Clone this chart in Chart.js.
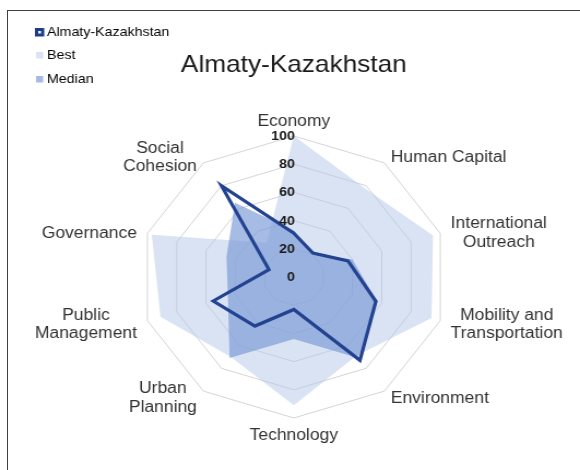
<!DOCTYPE html>
<html>
<head>
<meta charset="utf-8">
<script src="https://cdn.jsdelivr.net/npm/chart.js@4"></script>
<style>
  body { margin: 0; background: #fff; }
  #wrap { position: relative; width: 580px; height: 470px; overflow: hidden; }
  #frame { position: absolute; left: 7px; top: 10px; width: 620px; height: 520px; border-top: 1px solid #404040; border-left: 1px solid #404040; }
  /* the reference picture is a bit wider than tall, so the canvas is stretched */
  #myChart { position: absolute; left: 0; top: 0; transform: scaleX(1.0923); transform-origin: 0 0; }
</style>
</head>
<body>
<div id="wrap">
  <div id="frame"></div>
  <canvas id="myChart" width="531" height="470"></canvas>
</div>
<script>
const categories = [
  ['Economy'],
  ['Human Capital'],
  ['International', 'Outreach'],
  ['Mobility and', 'Transportation'],
  ['Environment'],
  ['Technology'],
  ['Urban', 'Planning'],
  ['Public', 'Management'],
  ['Governance'],
  ['Social', 'Cohesion']
];
const almatyValues = [31, 21, 37, 56, 73, 23, 43, 55, 17, 80];
const bestValues   = [100, 78, 95, 94, 69, 91, 70, 91, 97, 30];
const medianValues = [33, 20, 40, 57, 71, 44, 71, 45, 46, 65];
const tickValues = [0, 20, 40, 60, 80, 100];

const chartTitle = 'Almaty-Kazakhstan';
const fontFamily = '"Liberation Sans", Arial, sans-serif';

// legend marker colours (as they look on white)
const legendSwatches = ['#1f3c88', '#dae3f3', '#a5bae4'];

const textPlugin = {
  id: 'radarText',
  afterDraw(chart) {
    const ctx = chart.ctx;
    const r = chart.scales.r;
    ctx.save();

    // tick labels, right aligned on the centre line
    ctx.font = 'bold 13px ' + fontFamily;
    ctx.fillStyle = '#1a1a1a';
    ctx.textAlign = 'right';
    ctx.textBaseline = 'middle';
    tickValues.forEach(v => {
      ctx.fillText(String(v), r.xCenter + 1, r.yCenter + 0.5 - r.getDistanceFromCenterForValue(v));
    });

    // category labels round the outside
    ctx.font = '16px ' + fontFamily;
    ctx.fillStyle = '#333';
    const lineH = 18.5;
    categories.forEach((lines, i) => {
      const p = r.getPointPosition(i, r.drawingArea + 10);
      const angle = i * 360 / categories.length;
      const w = Math.max(...lines.map(l => ctx.measureText(l).width));
      const h = lines.length * lineH;
      // lower labels sit a little closer to the plot
      let shift = 3;
      if (angle === 108 || angle === 252) shift = 1;
      if (angle === 144 || angle === 216) shift = -1;
      let cx, top;
      if (angle === 0) {
        cx = p.x; top = p.y - h + 5;
      } else if (angle === 180) {
        cx = p.x; top = p.y - 2;
      } else if (angle < 180) {
        cx = p.x + w / 2; top = p.y - h / 2 + shift;
      } else {
        cx = p.x - w / 2; top = p.y - h / 2 + shift;
      }
      ctx.textAlign = 'center';
      ctx.textBaseline = 'middle';
      lines.forEach((l, k) => ctx.fillText(l, cx, top + lineH * k + lineH / 2));
    });

    // title
    ctx.font = '24px ' + fontFamily;
    ctx.fillStyle = '#1a1a1a';
    ctx.textAlign = 'center';
    ctx.textBaseline = 'alphabetic';
    ctx.fillText(chartTitle, 269, 72);

    // legend, top left
    ctx.font = '13px ' + fontFamily;
    ctx.textAlign = 'left';
    ctx.textBaseline = 'middle';
    const rows = [32.5, 55.5, 79.5];
    const names = ['Almaty-Kazakhstan', 'Best', 'Median'];
    names.forEach((name, k) => {
      const y = rows[k];
      ctx.fillStyle = legendSwatches[k];
      if (k === 0) {
        ctx.fillRect(32, y - 4.5, 8.5, 8.5);
        ctx.fillStyle = '#fff';
        ctx.fillRect(35, y - 1.5, 2.5, 2.5);
      } else {
        ctx.fillRect(33, y - 3.5, 6.5, 6.5);
      }
      ctx.fillStyle = '#000';
      ctx.fillText(name, 43, y);
    });
    ctx.restore();
  }
};

const ctx = document.getElementById('myChart');

const myChart = new Chart(ctx, {
  type: 'radar',
  data: {
    labels: categories.map(c => c.join(' ')),
    datasets: [
      {
        label: 'Almaty-Kazakhstan',
        data: almatyValues,
        borderColor: '#234290',
        borderWidth: 3.2,
        borderJoinStyle: 'miter',
        fill: false,
        pointRadius: 0
      },
      {
        label: 'Median',
        data: medianValues,
        backgroundColor: 'rgba(120, 152, 214, 0.65)',
        borderWidth: 0,
        fill: 'origin',
        pointRadius: 0
      },
      {
        label: 'Best',
        data: bestValues,
        backgroundColor: 'rgba(180, 199, 231, 0.5)',
        borderWidth: 0,
        fill: 'origin',
        pointRadius: 0
      }
    ]
  },
  options: {
    responsive: false,
    animation: false,
    layout: {
      padding: { top: 136, bottom: 52, left: 100, right: 92 }
    },
    plugins: {
      legend: { display: false },
      title: { display: false },
      tooltip: { enabled: false }
    },
    scales: {
      r: {
        min: 0,
        max: 100,
        ticks: { stepSize: 20, display: false },
        grid: { color: '#d4d4d4', lineWidth: 1 },
        angleLines: { display: false },
        pointLabels: { display: false }
      }
    }
  },
  plugins: [textPlugin]
});
</script>
</body>
</html>
